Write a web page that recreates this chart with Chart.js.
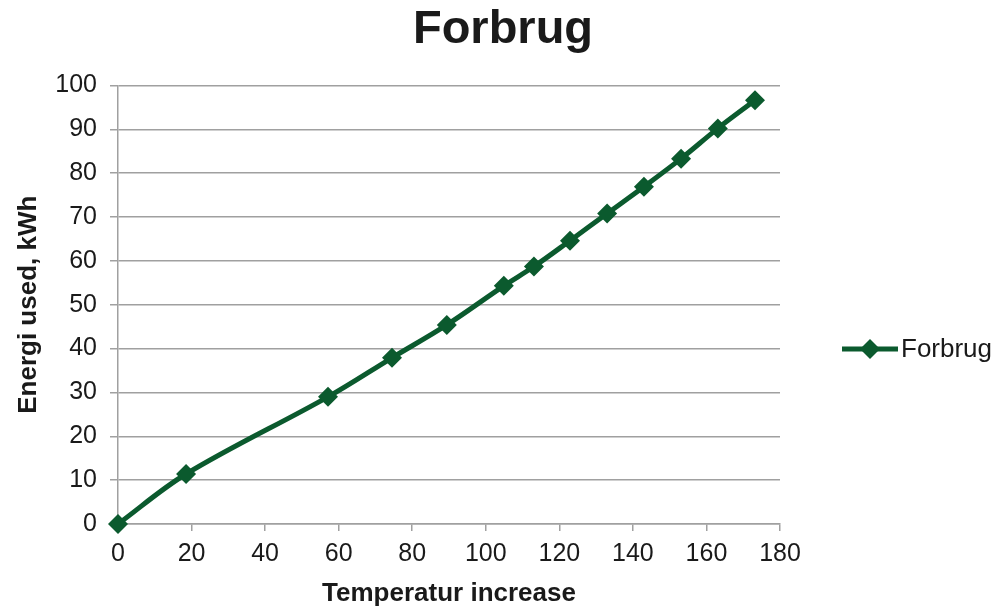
<!DOCTYPE html>
<html>
<head>
<meta charset="utf-8">
<script src="https://cdn.jsdelivr.net/npm/chart.js@4/dist/chart.umd.min.js"></script>
<style>
  html, body { margin: 0; padding: 0; background: #fff; }
  #wrap { width: 1006px; height: 610px; }
</style>
</head>
<body>
<div id="wrap"><canvas id="chart" width="1006" height="610"></canvas></div>
<script>
const temps = [0, 18.5, 57.1, 74.5, 89.4, 104.9, 113.1, 122.9, 133.0, 143.0, 153.1, 163.1, 173.2];
const energy = [0, 11.4, 29.0, 37.9, 45.4, 54.3, 58.7, 64.6, 70.8, 76.9, 83.3, 90.2, 96.6];
const seriesName = 'Forbrug';
const lineColor = '#0b5a2e';
const gridColor = '#a0a0a0';
const textColor = '#1a1a1a';
const font = "'Liberation Sans', Arial, sans-serif";

const points = temps.map((t, i) => ({ x: t, y: energy[i] }));

// legend drawn by hand: line + diamond + label, like the reference
const sideLegend = {
    id: 'sideLegend',
    afterDraw(chart) {
        const ctx = chart.ctx;
        const y = 349;
        ctx.save();
        ctx.strokeStyle = lineColor;
        ctx.lineWidth = 5;
        ctx.beginPath();
        ctx.moveTo(842, y);
        ctx.lineTo(898, y);
        ctx.stroke();
        ctx.fillStyle = lineColor;
        ctx.beginPath();
        ctx.moveTo(870, y - 10);
        ctx.lineTo(880, y);
        ctx.lineTo(870, y + 10);
        ctx.lineTo(860, y);
        ctx.closePath();
        ctx.fill();
        ctx.fillStyle = textColor;
        ctx.font = '26px ' + font;
        ctx.textBaseline = 'middle';
        ctx.fillText(seriesName, 901, y + 1);
        ctx.restore();
    }
};

new Chart(document.getElementById('chart'), {
    type: 'line',
    data: {
        datasets: [{
            label: seriesName,
            data: points,
            borderColor: lineColor,
            backgroundColor: lineColor,
            borderWidth: 5,
            tension: 0.35,
            clip: false,
            pointStyle: 'rectRot',
            pointRadius: 10,
            pointBorderWidth: 0,
            pointBackgroundColor: lineColor,
        }],
    },
    options: {
        responsive: false,
        animation: false,
        layout: { padding: { left: 0, right: 0, top: 0, bottom: 0 } },
        plugins: {
            legend: { display: false },
            tooltip: { enabled: false },
            title: {
                display: true,
                text: 'Forbrug',
                color: textColor,
                font: { family: font, size: 47, weight: 'bold' },
                padding: { top: 2, bottom: 27 },
            },
        },
        scales: {
            x: {
                type: 'linear',
                min: 0,
                max: 180,
                ticks: {
                    stepSize: 20,
                    color: textColor,
                    font: { family: font, size: 25 },
                    padding: 8,
                },
                grid: { drawOnChartArea: false, color: gridColor, lineWidth: 1.5, tickLength: 7 },
                border: { color: gridColor, width: 1.5 },
                title: {
                    display: true,
                    text: 'Temperatur increase',
                    color: textColor,
                    font: { family: font, size: 26, weight: 'bold' },
                    padding: { top: 0, bottom: 1 },
                },
                afterFit(scale) { scale.height = 86; },
            },
            y: {
                min: 0,
                max: 100,
                ticks: {
                    stepSize: 10,
                    color: textColor,
                    font: { family: font, size: 25 },
                    padding: 13,
                },
                grid: { color: gridColor, lineWidth: 1.5, tickLength: 8 },
                border: { color: gridColor, width: 1.5 },
                title: {
                    display: true,
                    text: 'Energi used, kWh',
                    color: textColor,
                    font: { family: font, size: 26, weight: 'bold' },
                    padding: { top: 13, bottom: 0 },
                },
                afterFit(scale) { scale.width = 118; },
            },
            // empty axis on the right that only reserves room for the legend
            side: {
                position: 'right',
                display: true,
                min: 0,
                max: 100,
                ticks: { display: false },
                grid: { display: false },
                border: { display: false },
                afterFit(scale) { scale.width = 226; },
            },
        },
    },
    plugins: [sideLegend],
});
</script>
</body>
</html>
